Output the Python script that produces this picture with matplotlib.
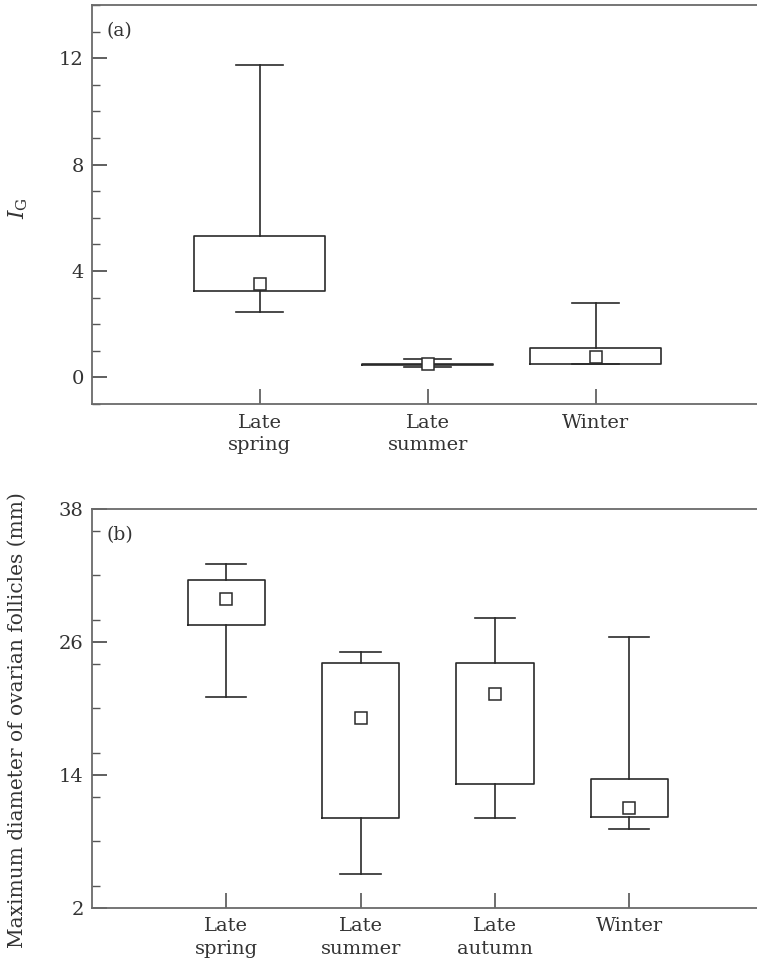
import matplotlib
matplotlib.use("Agg")
import matplotlib.pyplot as plt
from matplotlib.ticker import MultipleLocator

# ---- data ----
cats_a = ["Late\nspring", "Late\nsummer", "Winter"]
a_whislo = [2.45, 0.40, 0.49]
a_q1     = [3.23, 0.45, 0.49]
a_q3     = [5.31, 0.52, 1.11]
a_whishi = [11.74, 0.70, 2.78]
a_mark   = [3.52, 0.52, 0.78]

cats_b = ["Late\nspring", "Late\nsummer", "Late\nautumn", "Winter"]
b_whislo = [21.0, 5.0, 10.1, 9.1]
b_q1     = [27.55, 10.07, 13.2, 10.2]
b_q3     = [31.6, 24.1, 24.1, 13.6]
b_whishi = [33.05, 25.12, 28.2, 26.44]
b_mark   = [29.9, 19.14, 21.3, 11.0]

plt.rcParams['font.family'] = ['DejaVu Serif']
plt.rcParams['mathtext.fontset'] = 'dejavuserif'

INK = '#2a2a2a'
SPINE = '#6a6a6a'
TXT = '#333333'

fig = plt.figure(figsize=(7.57, 9.60), dpi=100)
W = (763.6 - 92) / 757
axa = fig.add_axes([92/757, 1 - 404/960, W, (404 - 5)/960])
axb = fig.add_axes([92/757, 1 - 907.7/960, W, (907.7 - 509)/960])


def stats(lo, q1, q3, hi, mk):
    out = []
    for i in range(len(lo)):
        out.append(dict(whislo=lo[i], q1=q1[i], med=q1[i], q3=q3[i],
                        whishi=hi[i], mean=mk[i], fliers=[]))
    return out


def draw(ax, st, widths, capw):
    n = len(st)
    ax.bxp(st, positions=list(range(1, n + 1)), widths=widths,
           capwidths=capw, showmeans=True, showfliers=False,
           boxprops=dict(color=INK, linewidth=1.2),
           whiskerprops=dict(color=INK, linewidth=1.2),
           capprops=dict(color=INK, linewidth=1.2),
           medianprops=dict(linewidth=0),
           meanprops=dict(marker='s', markersize=8.5, markerfacecolor='white',
                          markeredgecolor=INK, markeredgewidth=1.1))


draw(axa, stats(a_whislo, a_q1, a_q3, a_whishi, a_mark), 0.78, 0.28)
draw(axb, stats(b_whislo, b_q1, b_q3, b_whishi, b_mark), 0.575, 0.30)

axa.set_xlim(0, 4)
axa.set_ylim(-1, 14)
axa.yaxis.set_major_locator(MultipleLocator(4))
axa.yaxis.set_minor_locator(MultipleLocator(1))
axa.set_xticks([1, 2, 3])
axa.set_xticklabels(cats_a, linespacing=1.3)

axb.set_xlim(0, 5)
axb.set_ylim(2, 38)
axb.set_yticks([2, 14, 26, 38])
axb.yaxis.set_minor_locator(MultipleLocator(4))
axb.set_xticks([1, 2, 3, 4])
axb.set_xticklabels(cats_b, linespacing=1.3)

for ax in (axa, axb):
    for s in ('left', 'bottom', 'top'):
        ax.spines[s].set_color(SPINE)
        ax.spines[s].set_linewidth(1.3)
    ax.spines['right'].set_visible(False)
    ax.tick_params(axis='y', which='major', direction='in', length=10.8,
                   width=1.2, color='#444444', labelsize=14, labelcolor=TXT, pad=6)
    ax.tick_params(axis='y', which='minor', direction='in', length=5.8,
                   width=1.0, color='#555555')
    ax.tick_params(axis='x', which='major', direction='in', length=10.8,
                   width=1.2, color='#555555', labelsize=14, labelcolor=TXT, pad=7)
    ax.tick_params(axis='x', which='minor', bottom=False)

axa.set_ylabel(r'$I_{\mathrm{G}}$', fontsize=15.5, color=TXT)
axa.yaxis.set_label_coords(-0.092, 0.49)
axb.set_ylabel('Maximum diameter of ovarian follicles (mm)', fontsize=14.5, color=TXT)
axb.yaxis.set_label_coords(-0.097, 0.47)

axa.text(0.022, 0.935, '(a)', transform=axa.transAxes, fontsize=13.5,
         color=TXT, ha='left', va='center')
axb.text(0.022, 0.935, '(b)', transform=axb.transAxes, fontsize=13.5,
         color=TXT, ha='left', va='center')

fig.savefig('out.png', dpi=100)
